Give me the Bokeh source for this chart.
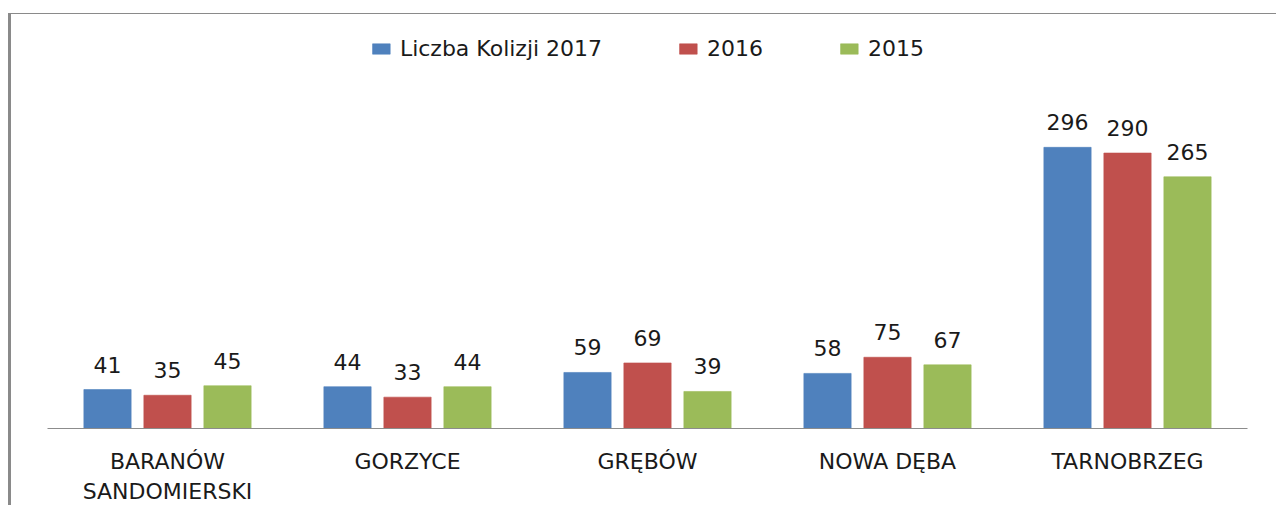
from bokeh.plotting import figure
from bokeh.models import ColumnDataSource, FactorRange, Range1d, Legend, LegendItem
from bokeh.transform import dodge
from bokeh.core.properties import value
from bokeh.embed import file_html
from bokeh.resources import INLINE

categories = ["BARANÓW\nSANDOMIERSKI", "GORZYCE", "GRĘBÓW", "NOWA DĘBA", "TARNOBRZEG"]
v2017 = [41, 44, 59, 58, 296]
v2016 = [35, 33, 69, 75, 290]
v2015 = [45, 44, 39, 67, 265]
series_names = ["Liczba Kolizji 2017", "2016", "2015"]
colors = ["#4F81BD", "#C0504D", "#9BBB59"]

FONT = "DejaVu Sans"

src = ColumnDataSource(dict(
    cat=categories,
    v2017=v2017, v2016=v2016, v2015=v2015,
    t2017=[str(v) for v in v2017],
    t2016=[str(v) for v in v2016],
    t2015=[str(v) for v in v2015],
))

p = figure(width=1268, height=492, output_backend="svg", toolbar_location=None,
           x_range=FactorRange(*categories), y_range=Range1d(0, 419),
           y_axis_location=None, tools="",
           min_border_left=36, min_border_right=32, min_border_top=16, min_border_bottom=78,
           styles={"border-left": "3px solid #8a8a8a", "border-top": "1px solid #8a8a8a",
                   "position": "relative", "left": "8px", "top": "13px"})
p.outline_line_color = None
p.xgrid.visible = False
p.ygrid.visible = False
p.background_fill_color = "white"
p.border_fill_color = "white"

offsets = [-0.25, 0.0, 0.25]
fields = ["v2017", "v2016", "v2015"]
tfields = ["t2017", "t2016", "t2015"]
items = []
for off, f, tf, c, name in zip(offsets, fields, tfields, colors, series_names):
    r = p.vbar(x=dodge("cat", off, range=p.x_range), top=f, width=0.197, source=src,
               fill_color=c, line_color=c, line_alpha=0.6)
    p.text(x=dodge("cat", off, range=p.x_range), y=f, text=tf, source=src,
           text_align="center", text_baseline="alphabetic", y_offset=-25,
           text_font=value(FONT), text_font_size="22px", text_color="#1a1a1a")
    items.append(LegendItem(label=name, renderers=[r]))

legend = Legend(items=items, orientation="horizontal", location="top_center",
                glyph_width=22, glyph_height=13, label_standoff=8, spacing=75,
                label_text_font=FONT, label_text_font_size="22px", label_text_color="#1a1a1a",
                label_height=25, margin=6, padding=0, border_line_color=None,
                background_fill_alpha=0)
p.add_layout(legend)

ax = p.xaxis[0]
ax.axis_line_color = "#8c8c8c"
ax.axis_line_width = 1
ax.major_tick_line_color = None
ax.minor_tick_line_color = None
ax.major_label_text_font = FONT
ax.major_label_text_font_size = "22px"
ax.major_label_text_color = "#1a1a1a"
ax.major_label_standoff = 14

open("out.html", "w").write(file_html(p, INLINE))
